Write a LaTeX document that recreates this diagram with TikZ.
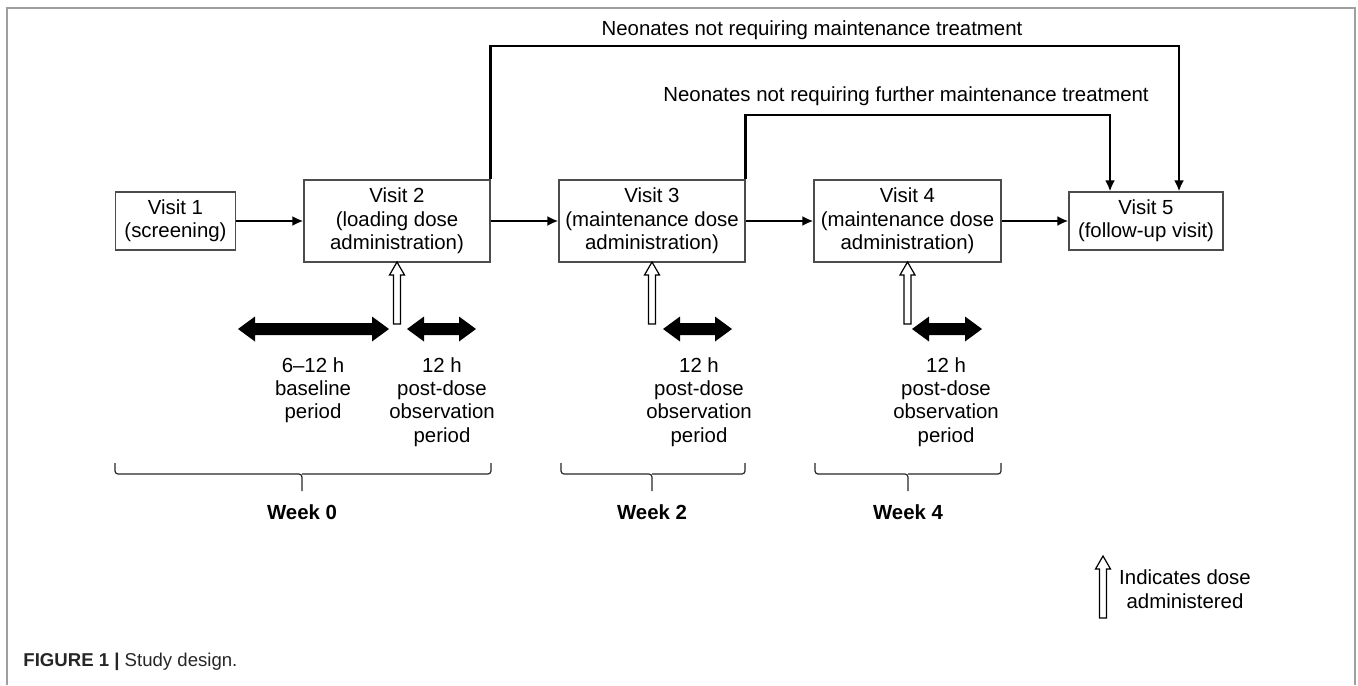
\documentclass[tikz,border=0pt]{standalone}
\usepackage{fontspec}
\setmainfont{Liberation Sans}
\usetikzlibrary{arrows.meta,%
		calc,%
		positioning}

\tikzset{
  visitbox/.style={draw=black!70, line width=0.6pt, align=center, inner sep=0pt},
  conn/.style={line width=1.3pt, -{Latex[length=5.5pt,width=5pt]}},
  weekbrace/.style={line width=0.6pt, black!85, rounded corners=1.5pt},
  periodtext/.style={align=center, anchor=north, inner sep=0pt},
  dosearrow/.pic={
    \draw[line width=0.6pt, fill=white] (-3.5,0) -- (-3.5,-49) -- (-7.5,-49) -- (0,-62)
      -- (7.5,-49) -- (3.5,-49) -- (3.5,0) -- cycle;
  }
}

% thick two-headed arrow from x=#1 to x=#2 at height #3
\newcommand{\periodarrow}[3]{%
  \fill (#1,#3) -- ++(17,-12.5) -- ++(0,6.5) -- ({#2-17},{#3-6}) -- ++(0,-6.5)
    -- (#2,#3) -- ++(-17,12.5) -- ++(0,-6.5) -- ({#1+17},{#3+6}) -- ++(0,6.5) -- cycle;}

\begin{document}
\begin{tikzpicture}[x=0.5pt,y=-0.5pt,font=\fontsize{10.2}{11.7}\selectfont]
\useasboundingbox (0,0) rectangle (1358,685);
\draw[gray!75, line width=1pt] (7,685) -- (7,8) -- (1355,8) -- (1355,685);

% visits
\node[visitbox, minimum width=60pt, minimum height=29pt] (v1) at (175.5,221) {Visit 1\\(screening)};
\node[visitbox, minimum width=93pt, minimum height=41pt] (v2) at (397,221) {Visit 2\\(loading dose\\administration)};
\node[visitbox, minimum width=93pt, minimum height=41pt] (v3) at (652,221) {Visit 3\\(maintenance dose\\administration)};
\node[visitbox, minimum width=93.5pt, minimum height=41pt] (v4) at (907.5,221) {Visit 4\\(maintenance dose\\administration)};
\node[visitbox, minimum width=77pt, minimum height=29pt] (v5) at (1146,221) {Visit 5\\(follow-up visit)};

\draw[conn] (v1) -- (v2);
\draw[conn] (v2) -- (v3);
\draw[conn] (v3) -- (v4);
\draw[conn] (v4) -- (v5);

\coordinate (t1) at (1179,46);
\coordinate (t2) at (1110,115);
\draw[conn] (v2.north east) |- (t1) -- (t1 |- v5.north);
\draw[conn] (v3.north east) |- (t2) -- (t2 |- v5.north);
\node (skip1) at (812,30) {Neonates not requiring maintenance treatment};
\node (skip2) at (906,96) {Neonates not requiring further maintenance treatment};

% doses and periods
\pic at (397,324) {dosearrow};
\pic at (652,324) {dosearrow};
\pic at (907.5,324) {dosearrow};
\periodarrow{238}{389}{329}
\periodarrow{407}{476}{329}
\periodarrow{663}{732}{329}
\periodarrow{912}{982}{329}

\node[periodtext] (base) at (313,357) {6--12 h\\baseline\\period};
\node[periodtext] (post2) at (442,357) {12 h\\post-dose\\observation\\period};
\node[periodtext] (post3) at (699,357) {12 h\\post-dose\\observation\\period};
\node[periodtext] (post4) at (946,357) {12 h\\post-dose\\observation\\period};

% weeks
\draw[weekbrace] (115,463) |- (302,474) -- (302,491);
\draw[weekbrace] (302,474) -| (491,463);
\draw[weekbrace] (561,463) |- (652,474) -- (652,491);
\draw[weekbrace] (652,474) -| (745,463);
\draw[weekbrace] (815,463) |- (908,474) -- (908,491);
\draw[weekbrace] (908,474) -| (1001,463);
\node[font=\fontsize{10.2}{11.7}\selectfont\bfseries] (w0) at (302,512) {Week 0};
\node[font=\fontsize{10.2}{11.7}\selectfont\bfseries] (w2) at (652,512) {Week 2};
\node[font=\fontsize{10.2}{11.7}\selectfont\bfseries] (w4) at (908,512) {Week 4};

% legend
\pic at (1103,618) {dosearrow};
\node[align=center] (legend) at (1185,589) {Indicates dose\\administered};

\node[anchor=base west, inner sep=0pt, font=\fontsize{9.3}{11}\selectfont, text=black!85] (caption) at (23,666)
  {\textbf{FIGURE 1 |} Study design.};
\end{tikzpicture}
\end{document}
